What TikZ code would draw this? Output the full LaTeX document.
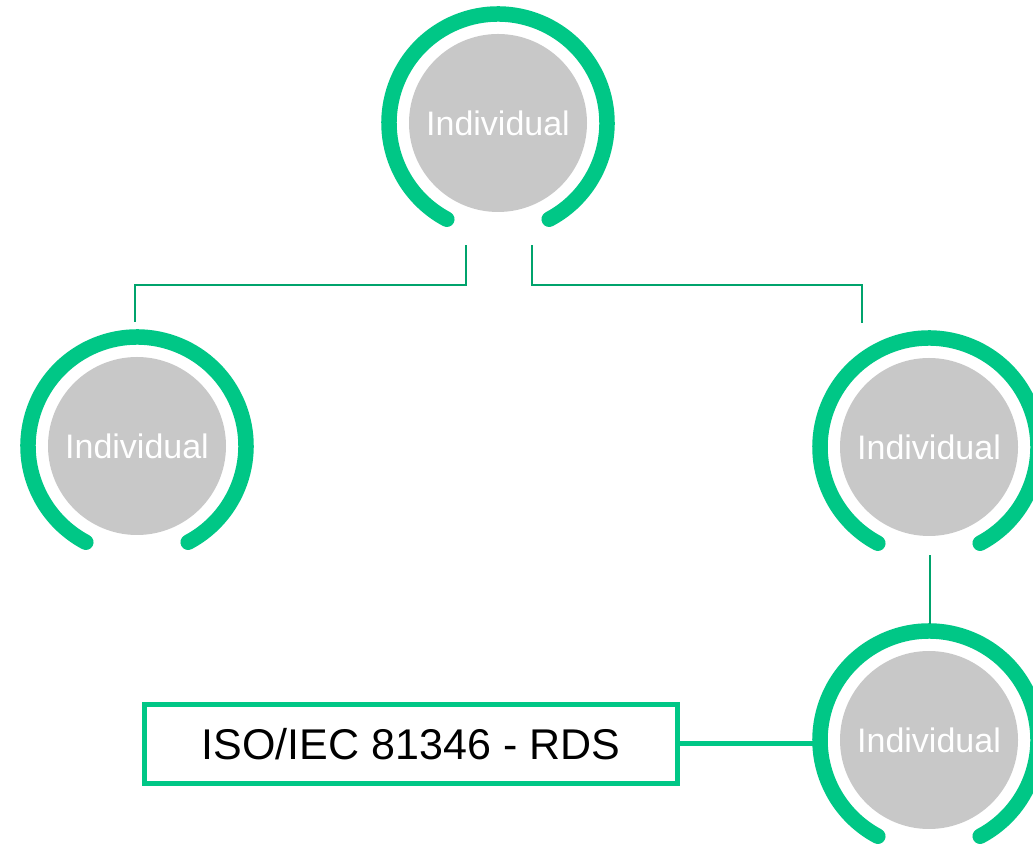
\documentclass[tikz,border=0pt]{standalone}
\usepackage{fontspec}
\setmainfont{Liberation Sans}
\usetikzlibrary{calc}
\definecolor{ringgreen}{RGB}{0,199,134}
\definecolor{linkgreen}{RGB}{0,163,108}
\definecolor{discgray}{RGB}{200,200,200}
\begin{document}
\begin{tikzpicture}[x=1pt,y=1pt,
  person/.style={circle,fill=discgray,minimum size=178pt,inner sep=0pt,
    text=white,font=\fontsize{34}{40}\selectfont},
  ring/.style={ringgreen,line width=15.5pt,line cap=round},
  link/.style={linkgreen,line width=2pt},
  joint/.style={ringgreen,line width=5pt},
  tag/.style={draw=ringgreen,line width=5pt,minimum width=533pt,
    minimum height=79pt,inner sep=0pt,font=\fontsize{43}{50}\selectfont}]
  \useasboundingbox (0,0) rectangle (1033,845);
  \clip (0,0) rectangle (1033,845);
  % individuals
  \node[person] (top) at (498,722) {Individual};
  \node[person] (left) at (137,399) {Individual};
  \node[person] (right) at (929,398) {Individual};
  \node[person] (bottom) at (929,105) {Individual};
  \foreach \n in {top,left,right,bottom}
    \draw[ring] (\n.center) ++(-62:109) arc[start angle=-62,end angle=242,radius=109];
  % reference designation
  \node[tag] (rds) at (411,101) {ISO/IEC 81346 - RDS};
  % links
  \draw[link] ($(top.south)+(-32,-33)$) -- ++(0,-40) -| ($(left.north)+(-2,35)$);
  \draw[link] ($(top.south)+(34,-33)$) -- ++(0,-40) -| ($(right.north)+(-67,35)$);
  \draw[link] ($(right.south)+(1,-19)$) -- ($(bottom.north)+(1,27)$);
  \draw[joint] (rds.east) -- ($(rds.east -| bottom.west)+(-27,0)$);
\end{tikzpicture}
\end{document}
